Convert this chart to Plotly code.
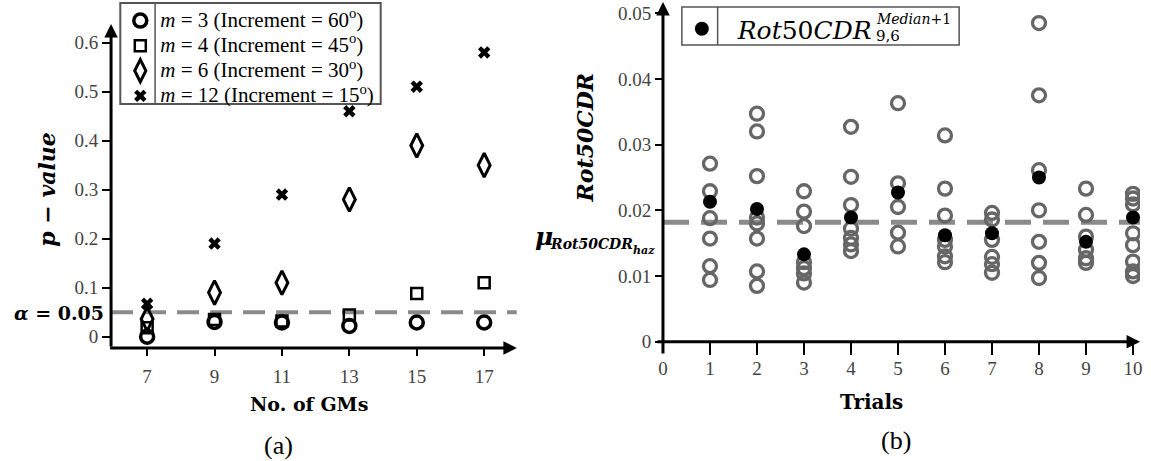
import plotly.graph_objects as go

W, H = 1151, 461

# ---- panel (a): p-values vs number of ground motions ----
gms = [7, 9, 11, 13, 15, 17]
p_m3 = [0.0, 0.030, 0.029, 0.022, 0.029, 0.029]
p_m4 = [0.018, 0.035, 0.032, 0.044, 0.088, 0.110]
p_m6 = [0.036, 0.090, 0.110, 0.280, 0.390, 0.350]
p_m12 = [0.067, 0.190, 0.290, 0.460, 0.510, 0.580]
alpha = 0.05
p_ticks = [0, 0.1, 0.2, 0.3, 0.4, 0.5, 0.6]
p_ticktext = ["0", "0.1", "0.2", "0.3", "0.4", "0.5", "0.6"]

# ---- panel (b): Rot50CDR over trials ----
trials = [1, 2, 3, 4, 5, 6, 7, 8, 9, 10]
cdr_all = [
    [0.0271, 0.0229, 0.0188, 0.0157, 0.0115, 0.0094],
    [0.0347, 0.0320, 0.0252, 0.0189, 0.0180, 0.0157, 0.0107, 0.0085],
    [0.0229, 0.0198, 0.0176, 0.0121, 0.0112, 0.0104, 0.0090],
    [0.0327, 0.0251, 0.0208, 0.0172, 0.0158, 0.0148, 0.0138],
    [0.0363, 0.0241, 0.0205, 0.0166, 0.0145],
    [0.0314, 0.0233, 0.0192, 0.0155, 0.0145, 0.0130, 0.0121],
    [0.0196, 0.0186, 0.0155, 0.0129, 0.0118, 0.0105],
    [0.0485, 0.0375, 0.0261, 0.0200, 0.0152, 0.0120, 0.0097],
    [0.0233, 0.0193, 0.0160, 0.0140, 0.0127, 0.0120],
    [0.0225, 0.0218, 0.0209, 0.0165, 0.0147, 0.0122, 0.0107, 0.0100],
]
cdr_median1 = [0.0213, 0.0202, 0.0133, 0.0189, 0.0227, 0.0162, 0.0165, 0.0250, 0.0152, 0.0189]
mu_haz = 0.0182
cdr_ticks = [0, 0.01, 0.02, 0.03, 0.04, 0.05]
cdr_ticktext = ["0", "0.01", "0.02", "0.03", "0.04", "0.05"]
trial_ticks = list(range(0, 11))


def px_x(p):
    return p / W


def px_y(p):
    return 1 - p / H


SERIF = "Liberation Serif"
MATH = "DejaVu Serif"
TICK_COLOR = "#444444"


def big(s):
    return '<span style="font-size:21px">' + s + "</span>"


fig = go.Figure()

# panel (a) series
fig.add_trace(go.Scatter(
    x=gms, y=p_m3, mode="markers", xaxis="x", yaxis="y",
    name=big("<i>m</i> = 3 (Increment = 60<sup>o</sup>)"),
    marker=dict(symbol="circle-open", size=13, color="black", line=dict(width=3.5, color="black")),
))
fig.add_trace(go.Scatter(
    x=gms, y=p_m4, mode="markers", xaxis="x", yaxis="y",
    name=big("<i>m</i> = 4 (Increment = 45<sup>o</sup>)"),
    marker=dict(symbol="square-open", size=11, color="black", line=dict(width=2.5, color="black")),
))
fig.add_trace(go.Scatter(
    x=gms, y=p_m6, mode="markers", xaxis="x", yaxis="y",
    name=big("<i>m</i> = 6 (Increment = 30<sup>o</sup>)"),
    marker=dict(symbol="diamond-tall-open", size=17, color="black", line=dict(width=3, color="black")),
))
fig.add_trace(go.Scatter(
    x=gms, y=p_m12, mode="markers", xaxis="x", yaxis="y",
    name=big("<i>m</i> = 12 (Increment = 15<sup>o</sup>)"),
    marker=dict(symbol="x", size=11, color="black", line=dict(width=0)),
))

# panel (b) series
xs, ys = [], []
for t, vals in zip(trials, cdr_all):
    xs += [t] * len(vals)
    ys += vals
fig.add_trace(go.Scatter(
    x=xs, y=ys, mode="markers", xaxis="x2", yaxis="y2", showlegend=False,
    marker=dict(symbol="circle-open", size=13, color="#666666", line=dict(width=3.3, color="#666666")),
))
fig.add_trace(go.Scatter(
    x=trials, y=cdr_median1, mode="markers", xaxis="x2", yaxis="y2",
    legend="legend2", name="\u00a0\u00a0<i>Rot</i>50<i>CDR</i>",
    marker=dict(symbol="circle", size=14, color="black"),
))

# axes geometry (pixels)
AX_L, AX_R, AY_B, AY_T = 106.7, 515, 348, 24
BX_L, BX_R, BY_B, BY_T = 662, 1142, 355, 2

fig.update_layout(
    width=W, height=H,
    margin=dict(l=0, r=0, t=0, b=0),
    paper_bgcolor="white", plot_bgcolor="white",
    xaxis=dict(
        domain=[px_x(AX_L), px_x(AX_R)], range=[5.93, 17.97], anchor="y",
        tickvals=gms, ticks="outside", ticklen=7, tickwidth=2, tickcolor="black",
        ticklabelstandoff=4,
        showgrid=False, zeroline=False, showline=False,
        tickfont=dict(family=SERIF, size=19, color=TICK_COLOR),
    ),
    yaxis=dict(
        domain=[px_y(AY_B), px_y(AY_T)], range=[-0.0231, 0.638], anchor="x",
        tickvals=p_ticks, ticktext=p_ticktext, ticks="outside", ticklen=8, tickwidth=2,
        tickcolor="black", showgrid=False, zeroline=False, showline=False,
        tickfont=dict(family=SERIF, size=19, color=TICK_COLOR),
    ),
    xaxis2=dict(
        domain=[px_x(BX_L), px_x(BX_R)], range=[0, 10.15], anchor="y2",
        tickvals=trial_ticks, ticks="inside", ticklen=13, tickwidth=2, tickcolor="black",
        showgrid=False, zeroline=False, showline=False,
        tickfont=dict(family=SERIF, size=19, color=TICK_COLOR),
    ),
    yaxis2=dict(
        domain=[px_y(BY_B), px_y(BY_T)], range=[-0.00202, 0.0517], anchor="x2",
        tickvals=cdr_ticks, ticktext=cdr_ticktext, ticks="outside", ticklen=7, tickwidth=2,
        tickcolor="black", showgrid=False, zeroline=False, showline=False,
        tickfont=dict(family=SERIF, size=19, color=TICK_COLOR),
    ),
    legend=dict(
        x=px_x(116), y=px_y(3), xanchor="left", yanchor="top",
        bgcolor="rgba(255,255,255,0)", borderwidth=0,
        font=dict(family=SERIF, size=17, color="black"),
        tracegroupgap=0, itemsizing="trace",
    ),
    legend2=dict(
        x=px_x(681), y=px_y(6), xanchor="left", yanchor="top",
        bgcolor="rgba(255,255,255,0)", borderwidth=0,
        font=dict(family=MATH, size=25, color="black"),
        itemsizing="trace",
    ),
    showlegend=True,
)

shapes = [
    # alpha threshold
    dict(type="line", xref="x", yref="y", x0=5.93, x1=17.97, y0=alpha, y1=alpha,
         line=dict(color="#8a8a8a", width=4, dash="22px,11px"), layer="below"),
    # hazard mean
    dict(type="line", xref="x2", yref="y2", x0=0, x1=10.15, y0=mu_haz, y1=mu_haz,
         line=dict(color="#8a8a8a", width=5, dash="26px,12px"), layer="below"),
    # legend frames
    dict(type="rect", xref="paper", yref="paper", x0=px_x(116), x1=px_x(378),
         y0=px_y(104), y1=px_y(3), line=dict(color="#555555", width=2)),
    dict(type="line", xref="paper", yref="paper", x0=px_x(151), x1=px_x(151),
         y0=px_y(104), y1=px_y(3), line=dict(color="#555555", width=1.5)),
    dict(type="rect", xref="paper", yref="paper", x0=px_x(681), x1=px_x(960),
         y0=px_y(45), y1=px_y(7), line=dict(color="#555555", width=1.5)),
    dict(type="line", xref="paper", yref="paper", x0=px_x(717), x1=px_x(717),
         y0=px_y(45), y1=px_y(7), line=dict(color="#555555", width=1.5)),
]
fig.update_layout(shapes=shapes)


def axis_arrow(x_tip, y_tip, ax, ay):
    return dict(xref="paper", yref="paper", x=px_x(x_tip), y=px_y(y_tip),
                axref="pixel", ayref="pixel", ax=ax, ay=ay, text="",
                showarrow=True, arrowhead=2, arrowsize=0.9, arrowwidth=3,
                arrowcolor="black", standoff=0, startstandoff=0)


def label(text, x, y, size, family=SERIF, angle=0, xanchor="center", color="black"):
    return dict(xref="paper", yref="paper", x=px_x(x), y=px_y(y), text=text,
                showarrow=False, textangle=angle, xanchor=xanchor, yanchor="middle",
                font=dict(family=family, size=size, color=color))


annotations = [
    axis_arrow(AX_R, AY_B, -(AX_R - AX_L), 0),
    axis_arrow(AX_L, AY_T, 0, AY_B - AY_T),
    axis_arrow(BX_R, 341.7, -(BX_R - 658), 0),
    axis_arrow(BX_L, BY_T, 0, BY_B - BY_T),
    label("<b><i>p</i> − <i>value</i></b>", 42, 189, 22, MATH, -90),
    label("<b><i>α</i> = 0.05</b>", 54, 313, 19, MATH),
    label("<b>No. of GMs</b>", 306, 404, 19, MATH),
    label("(a)", 275, 445, 26),
    label("<b><i>Rot50CDR</i></b>", 584, 137, 22, MATH, -90),
    label("<b><i>μ</i></b>", 531, 236, 25, MATH, xanchor="left"),
    label("<b><i>Rot50CDR</i></b>", 546, 244, 14, MATH, xanchor="left"),
    label("<b><i>haz</i></b>", 630, 250, 11, MATH, xanchor="left"),
    label("<b>Trials</b>", 872, 402, 20, MATH),
    label("(b)", 896, 440, 26),
    label("<i>Median</i>+1", 874, 19, 14, MATH, xanchor="left"),
    label("9,6", 874, 36, 15, MATH, xanchor="left"),
]
fig.update_layout(annotations=annotations)

fig.write_html("out.html")
